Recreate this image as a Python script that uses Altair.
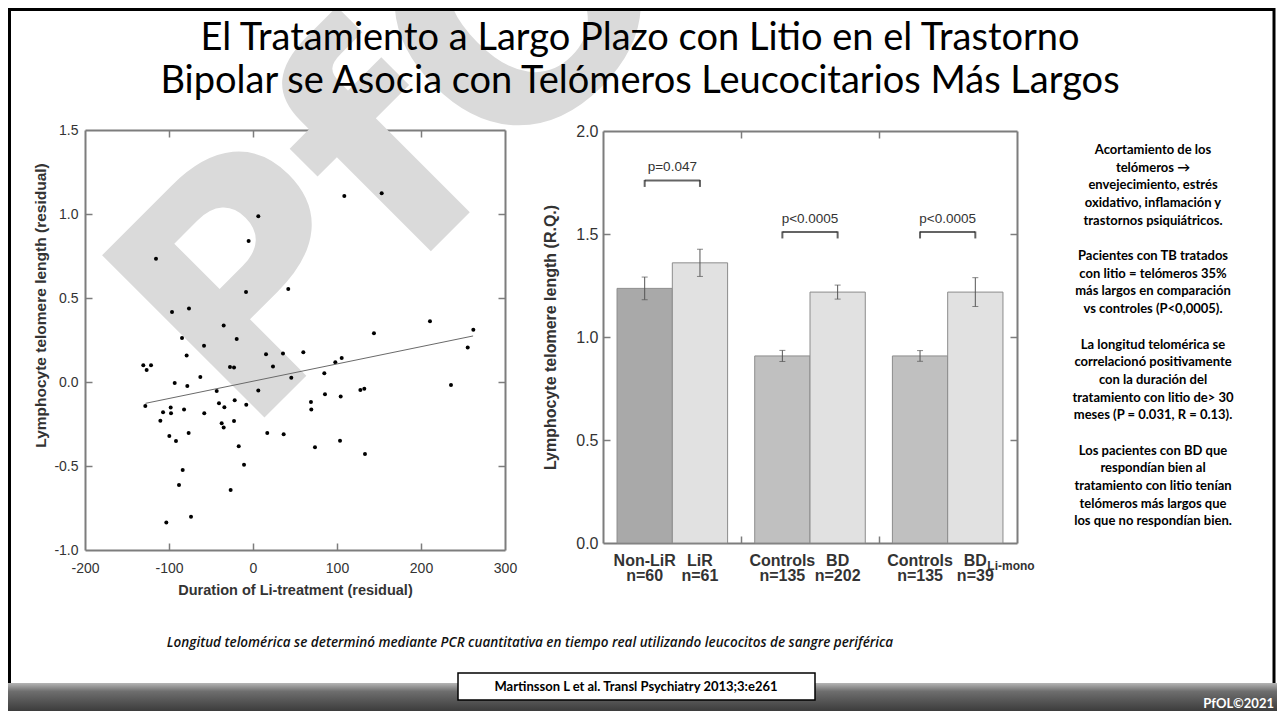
import altair as alt
import pandas as pd

W, H = 1269, 703

# ---------------- data ----------------
dur = [6.3, -5.2, -115.5, -8.3, 42.0, -96.4, -76.2, -34.9, -19.4, -84.5, -58.3, -79.0,
       15.5, 35.7, 59.9, -130.6, -121.4, -126.6, -27.4, -22.6, 23.8, 45.6, -93.2, -78.2,
       -62.7, -43.2, 6.3, -128.2, -107.1, -98.0, -97.6, -82.1, -58.0, -40.5, -34.1, -21.8,
       -8.0, -110.3, -37.3, -34.9, -22.6, -99.6, -91.7, -76.6, 17.0, 36.5, 73.8, -17.0,
       -10.7, -83.7, -88.1, -26.6, -73.8, -103.2, 69.0, 69.4, 108.7, 153.2, 210.7, 144.0,
       262.3, 255.6, 105.6, 98.0, 84.9, 235.7, 85.7, 104.4, 127.8, 132.5, 103.6, 133.3]
tel = [0.986, 0.84, 0.734, 0.536, 0.554, 0.417, 0.437, 0.337, 0.256, 0.262, 0.216, 0.157,
       0.165, 0.169, 0.177, 0.10, 0.10, 0.071, 0.09, 0.086, 0.092, 0.026, -0.006, -0.024,
       0.030, -0.054, -0.05, -0.143, -0.18, -0.152, -0.186, -0.163, -0.186, -0.127, -0.151, -0.109,
       -0.135, -0.23, -0.246, -0.271, -0.232, -0.321, -0.351, -0.304, -0.304, -0.311, -0.389, -0.383,
       -0.492, -0.524, -0.613, -0.643, -0.802, -0.837, -0.119, -0.163, 1.107, 1.123, 0.361, 0.29,
       0.311, 0.205, 0.143, 0.117, 0.052, -0.018, -0.073, -0.087, -0.048, -0.04, -0.349, -0.429]

fit_dur = [-128, 262]
fit_tel = [-0.127, 0.274]

groups = ["G1", "G1", "G2", "G2", "G3", "G3"]
slots = ["A", "B", "A", "B", "A", "B"]
bar_names = ["Non-LiR", "LiR", "Controls", "BD", "Controls", "BD"]
bar_n = ["n=60", "n=61", "n=135", "n=202", "n=135", "n=39"]
bar_mean = [1.236, 1.360, 0.908, 1.218, 0.908, 1.218]
bar_err = [0.055, 0.066, 0.027, 0.034, 0.026, 0.070]
bar_fill = ["#a9a9a9", "#e1e1e1", "#c0c0c0", "#e1e1e1", "#c0c0c0", "#e1e1e1"]

pair_groups = ["G1", "G2", "G3"]
pair_level = [1.76, 1.51, 1.51]
pair_p = ["p=0.047", "p<0.0005", "p<0.0005"]

sub_label = "Li-mono"

title_lines = ["El Tratamiento a Largo Plazo con Litio en el Trastorno",
               "Bipolar se Asocia con Telómeros Leucocitarios Más Largos"]
side_paras = [
    ["Acortamiento de los", "telómeros \u2192", "envejecimiento, estrés",
     "oxidativo, inflamación y", "trastornos psiquiátricos."],
    ["Pacientes con TB tratados", "con litio = telómeros 35%", "más largos en comparación",
     "vs controles (P<0,0005)."],
    ["La longitud telomérica se", "correlacionó positivamente", "con la duración del",
     "tratamiento con litio de> 30", "meses (P = 0.031, R = 0.13)."],
    ["Los pacientes con BD que", "respondían bien al", "tratamiento con litio tenían",
     "telómeros más largos que", "los que no respondían bien."],
]
footnote = ("Longitud telomérica se determinó mediante PCR cuantitativa en tiempo real "
            "utilizando leucocitos de sangre periférica")
citation = "Martinsson L et al. Transl Psychiatry 2013;3:e261"
brand = "PfOL©2021"
watermark = "PfOL"

# ---------------- tables ----------------
sc_df = pd.DataFrame({"dur": dur, "tel": tel})
fit_df = pd.DataFrame({"dur": fit_dur, "tel": fit_tel})
bar_df = pd.DataFrame({"group": groups, "slot": slots, "name": bar_names, "n": bar_n,
                       "mean": bar_mean, "err": bar_err, "fill": bar_fill})
bar_df["lo"] = bar_df["mean"] - bar_df["err"]
bar_df["hi"] = bar_df["mean"] + bar_df["err"]
pair_df = pd.DataFrame({"group": pair_groups, "level": pair_level, "p": pair_p})
end_df = pd.DataFrame({"group": [g for g in pair_groups for _ in range(2)],
                       "slot": ["A", "B"] * 3,
                       "level": [l for l in pair_level for _ in range(2)]})
sub_df = pd.DataFrame({"group": ["G3"], "slot": ["B"], "t": [sub_label]})
one = alt.Data(values=[{}])

AXC = "#7d7d7d"
LBL = "#333333"
FONT = "Liberation Sans"


def ax(**kw):
    base = dict(grid=False, domainColor=AXC, tickColor=AXC, tickWidth=1.5, domainWidth=2,
                labelColor=LBL, labelFont=FONT, titleFont=FONT, titleColor=LBL,
                titleFontWeight="bold", labelOverlap=False, labelFlush=False)
    base.update(kw)
    return alt.Axis(**base)


def sx():
    return alt.Scale(domain=[-200, 300], range=[77, 497], nice=False, zero=False)


def sy():
    return alt.Scale(domain=[-1, 1.5], range=[542, 122], nice=False, zero=False)


def bx():
    return alt.Scale(type="band", domain=pair_groups, range=[595, 1009],
                     paddingInner=0.197, paddingOuter=0.102)


def bxo():
    return alt.Scale(type="band", domain=["A", "B"], paddingInner=0, paddingOuter=0)


def bqx():
    return alt.Scale(domain=[0, 3], range=[595, 1009], nice=False, zero=False)


def by():
    return alt.Scale(domain=[0, 2], range=[535, 123], nice=False, zero=False)


MINUS1 = "replace(format(datum.value, '.1f'), '\u2212', '-')"
MINUS0 = "replace(format(datum.value, 'd'), '\u2212', '-')"

# ---------------- slide decorations ----------------
band = alt.Chart(one).mark_rect(
    fill=alt.Gradient(gradient="linear", x1=0, x2=0, y1=0, y2=1,
                      stops=[alt.GradientStop(color="#b5b5b5", offset=0),
                             alt.GradientStop(color="#6e6e6e", offset=0.3),
                             alt.GradientStop(color="#3c3c3c", offset=1)])
).encode(x=alt.value(0), x2=alt.value(W), y=alt.value(675), y2=alt.value(H))

border = alt.Chart(one).mark_rect(fill=None, stroke="black", strokeWidth=3).encode(
    x=alt.value(1.5), x2=alt.value(1266), y=alt.value(1.5), y2=alt.value(692))

wm = alt.Chart(one).mark_text(text=watermark, font="DejaVu Sans", fontWeight="bold",
                              fontSize=315, angle=315, align="left", baseline="alphabetic",
                              color="#dadada").encode(x=alt.value(236), y=alt.value(430))

title = alt.Chart(one).mark_text(text=title_lines, font="Lato", fontSize=38, lineHeight=43,
                                 align="center", baseline="alphabetic", color="black").encode(
    x=alt.value(632), y=alt.value(42))

para_y = [136, 242, 330.5, 436.5]
side_layers = [
    alt.Chart(one).mark_text(text=lines, font="Lato", fontWeight="bold", fontSize=13,
                             lineHeight=17.7, align="center", baseline="top",
                             color="black").encode(x=alt.value(1145), y=alt.value(py))
    for lines, py in zip(side_paras, para_y)
]

foot = alt.Chart(one).mark_text(text=footnote, font="Open Sans", fontStyle="italic",
                                fontWeight=600, fontSize=13.5, align="center",
                                baseline="middle", color="#111").encode(
    x=alt.value(522), y=alt.value(635))

cite_box = alt.Chart(one).mark_rect(fill="white", stroke="black", strokeWidth=1.5).encode(
    x=alt.value(450), x2=alt.value(807), y=alt.value(665), y2=alt.value(692))
cite = alt.Chart(one).mark_text(text=citation, font="Lato", fontWeight="bold", fontSize=13,
                                align="center", baseline="middle", color="black").encode(
    x=alt.value(628), y=alt.value(678.5))
brand_t = alt.Chart(one).mark_text(text=brand, font="Lato", fontWeight="bold", fontSize=13,
                                   align="right", baseline="middle", color="white").encode(
    x=alt.value(1266), y=alt.value(696))

# ---------------- scatter ----------------
s_pts = alt.Chart(sc_df).mark_circle(size=16, color="black", opacity=1).encode(
    x=alt.X("dur:Q", scale=sx(), axis=ax(orient="bottom", offset=542 - H, ticks=False,
                                          values=[-200, -100, 0, 100, 200, 300],
                                          labelExpr=MINUS0, labelPadding=11, labelFontSize=14,
                                          title="Duration of Li-treatment (residual)",
                                          titleFontSize=14.5, titleX=287, titleY=40,
                                          titleAlign="center", titleBaseline="middle")),
    y=alt.Y("tel:Q", scale=sy(), axis=ax(orient="left", offset=-77, ticks=False,
                                          values=[-1, -0.5, 0, 0.5, 1, 1.5],
                                          labelExpr=MINUS1, labelPadding=7, labelFontSize=14,
                                          title="Lymphocyte telomere length (residual)",
                                          titleFontSize=15.5, titleX=-45, titleY=297,
                                          titleAngle=270, titleAlign="center",
                                          titleBaseline="middle")))

s_fit = alt.Chart(fit_df).mark_line(color="#6a6a6a", strokeWidth=1).encode(
    x=alt.X("dur:Q", scale=sx(), axis=ax(orient="top", offset=-542, labels=False, domain=False,
                                          tickSize=7, values=[-100, 0, 100, 200], title=None)),
    y=alt.Y("tel:Q", scale=sy(), axis=ax(orient="right", offset=77 - W, labels=False,
                                          domain=False, tickSize=7,
                                          values=[-0.5, 0, 0.5, 1.0], title=None)))

s_frame = alt.Chart(sc_df).mark_point(opacity=0).encode(
    x=alt.X("dur:Q", scale=sx(), axis=ax(orient="bottom", offset=122 - H, labels=False,
                                          tickSize=7, values=[-100, 0, 100, 200], title=None)),
    y=alt.Y("tel:Q", scale=sy(), axis=ax(orient="left", offset=-497, labels=False,
                                          tickSize=7, values=[-0.5, 0, 0.5, 1.0], title=None)))

# ---------------- bars ----------------
b_bars = alt.Chart(bar_df).mark_bar(stroke="#8c8c8c", strokeWidth=1).encode(
    x=alt.X("group:N", scale=bx(), axis=ax(orient="bottom", offset=535 - H, labels=False,
                                            ticks=False, title=None)),
    xOffset=alt.XOffset("slot:N", scale=bxo()),
    y=alt.Y("mean:Q", scale=by(), axis=ax(orient="left", offset=-595, ticks=False,
                                           values=[0, 0.5, 1, 1.5, 2], labelExpr=MINUS1,
                                           labelPadding=5, labelFontSize=16,
                                           title="Lymphocyte telomere length (R.Q.)",
                                           titleFontSize=16, titleX=-53, titleY=329,
                                           titleAngle=270, titleAlign="center",
                                           titleBaseline="middle")),
    fill=alt.Fill("fill:N", scale=None))

b_in1 = alt.Chart(bar_df).mark_point(opacity=0).encode(
    x=alt.XDatum(0, type="quantitative", scale=bqx(),
                 axis=ax(orient="top", offset=-535, labels=False, domain=False, tickSize=7,
                         values=[1, 2], title=None)),
    y=alt.YDatum(0, type="quantitative", scale=by(),
                 axis=ax(orient="right", offset=595 - W, labels=False, domain=False, tickSize=7,
                         values=[0.5, 1, 1.5], title=None)))

b_in2 = alt.Chart(bar_df).mark_point(opacity=0).encode(
    x=alt.XDatum(0, type="quantitative", scale=bqx(),
                 axis=ax(orient="bottom", offset=123 - H, labels=False, tickSize=7,
                         values=[1, 2], title=None)),
    y=alt.YDatum(0, type="quantitative", scale=by(),
                 axis=ax(orient="left", offset=-1009, labels=False, tickSize=7,
                         values=[0.5, 1, 1.5], title=None)))


def gx():
    return alt.X("group:N", scale=bx(), axis=None)


def gxo():
    return alt.XOffset("slot:N", scale=bxo())


def gy(field):
    return alt.Y(field, scale=by(), axis=None)


b_err = alt.Chart(bar_df).mark_rule(color="#555", strokeWidth=1).encode(
    x=gx(), xOffset=gxo(), y=gy("lo:Q"), y2="hi:Q")
b_cap_hi = alt.Chart(bar_df).mark_tick(orient="horizontal", size=6, thickness=1, color="#555").encode(
    x=gx(), xOffset=gxo(), y=gy("hi:Q"))
b_cap_lo = alt.Chart(bar_df).mark_tick(orient="horizontal", size=6, thickness=1, color="#555").encode(
    x=gx(), xOffset=gxo(), y=gy("lo:Q"))

b_br = alt.Chart(pair_df).mark_tick(orient="horizontal", size=55, thickness=2, color="#222").encode(
    x=gx(), y=gy("level:Q"))
b_br_end = alt.Chart(end_df).mark_tick(orient="vertical", size=7, thickness=2, color="#222",
                                       yOffset=3).encode(x=gx(), xOffset=gxo(), y=gy("level:Q"))
b_p = alt.Chart(pair_df).mark_text(dy=-13, fontSize=13.5, font=FONT, color="#333").encode(
    x=gx(), y=gy("level:Q"), text="p:N")

b_name = alt.Chart(bar_df).mark_text(fontSize=16, fontWeight="bold", font=FONT, color="#333",
                                     baseline="middle").encode(
    x=gx(), xOffset=gxo(), y=alt.value(553), text="name:N")
b_n = alt.Chart(bar_df).mark_text(fontSize=16, fontWeight="bold", font=FONT, color="#333",
                                  baseline="middle").encode(
    x=gx(), xOffset=gxo(), y=alt.value(568), text="n:N")
b_sub = alt.Chart(sub_df).mark_text(fontSize=12, fontWeight="bold", font=FONT, color="#333",
                                    align="left", dx=12, baseline="middle").encode(
    x=gx(), xOffset=gxo(), y=alt.value(558), text="t:N")

chart = alt.layer(
    wm, border, band, title, *side_layers, foot, cite_box, cite, brand_t,
    s_pts, s_fit, s_frame,
    b_bars, b_in1, b_in2, b_err, b_cap_hi, b_cap_lo, b_br, b_br_end, b_p, b_name, b_n, b_sub
).resolve_scale(
    x="independent", y="independent", xOffset="independent"
).resolve_axis(
    x="independent", y="independent"
).properties(
    width=W, height=H, autosize=alt.AutoSizeParams(type="none"), padding=0
).configure_view(stroke=None)

chart.save("out.html", embed_options={"renderer": "svg", "actions": False})
